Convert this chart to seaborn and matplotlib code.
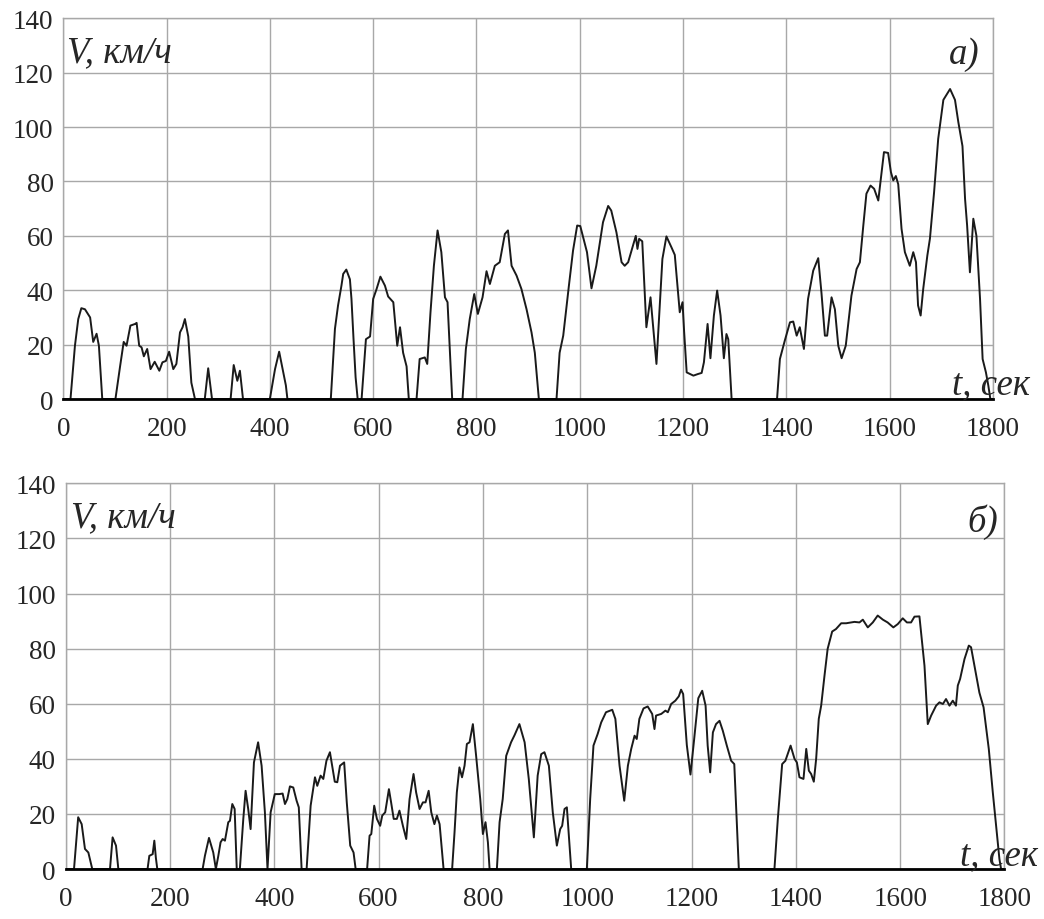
import matplotlib
matplotlib.use("Agg")
import matplotlib.pyplot as plt
import pandas as pd
import seaborn as sns

# ---- panel a) ----
t_a = [0, 14, 22.6, 29, 35, 42, 52, 58, 64.5, 69, 75.5,
       101, 110, 117, 122.5, 130, 139, 142, 147, 151.6, 156, 162.5, 169, 177, 186, 192, 198.7,
       205, 213, 219, 226, 231, 235.5, 242, 248, 255,
       274, 280.6, 288,
       324, 330, 337, 342, 348,
       400, 410, 418, 426, 431, 434,
       518, 526, 532, 538.6, 542, 548, 555, 558, 562, 566, 570,
       577.6, 586, 594, 600, 606.7, 614, 622.8, 629, 639, 646.6, 652, 658, 664.7, 669,
       684, 690, 700, 704.7, 711, 717.6, 724.7, 732, 739, 744, 753,
       773, 779.5, 787, 795.7, 802.7, 811.8, 819.5, 826, 835.6, 845, 855, 861, 868, 877.6,
       887, 897, 906.6, 913, 920.8,
       955, 961, 968, 979, 987, 995, 1001, 1006.6, 1014, 1022.7, 1032, 1045, 1055, 1061,
       1071, 1081, 1087, 1093.7, 1102, 1108.5, 1111.7, 1115, 1121, 1129, 1137, 1148.5,
       1160, 1167.8, 1177.5, 1184, 1193.6, 1199, 1202, 1207, 1220, 1229, 1236, 1240.4,
       1247.5, 1253, 1259.7, 1266, 1272.6, 1279, 1284, 1287.5, 1294,
       1382, 1387.5, 1397, 1407, 1413.3, 1420, 1426, 1434, 1442, 1452, 1461.7, 1468,
       1474.6, 1479, 1487.5, 1494, 1500.5, 1507, 1515, 1526, 1536, 1542.4, 1549, 1555,
       1563, 1570, 1578, 1584.4, 1589, 1597, 1602.5, 1607, 1612, 1616.6, 1623, 1629.5,
       1639, 1645.7, 1651, 1655, 1660, 1665, 1673, 1678, 1686, 1694, 1704, 1717, 1726.5,
       1733, 1741, 1746, 1750, 1755.4, 1762, 1768, 1775, 1780, 1786.4, 1791, 1795, 1800]
v_a = [0, 0, 19.6, 29.4, 33.4, 33, 30, 21, 24, 19.6, 0,
       0, 12, 21, 19.6, 27, 27.6, 28, 19.6, 19, 15.7, 18.4, 11, 13.7, 10.4, 13.5, 14,
       17.4, 11, 12.9, 24.5, 26.4, 29.4, 23, 6, 0,
       0, 11.3, 0,
       0, 12.5, 6.7, 10.4, 0,
       0, 11, 17.4, 9.8, 5, 0,
       0, 25.8, 34.4, 41.7, 46, 47.6, 44, 36.8, 22, 8, 0,
       0, 22, 23, 36.8, 40.5, 45, 41.7, 37.7, 35.6, 19.6, 26.4, 17, 12, 0,
       0, 14.7, 15.3, 12.9, 31.9, 49, 62, 54, 37.4, 35.6, 0,
       0, 18.4, 29.4, 38.6, 31.3, 37.4, 47, 42.3, 49, 50.3, 60.7, 62, 49, 45.4,
       40.5, 33, 24.5, 17, 0,
       0, 17, 23.3, 41.7, 54.6, 63.8, 63.6, 59.5, 54, 40.7, 49, 65, 71, 69.3,
       61.3, 50.3, 49, 50.3, 55.8, 60, 55.2, 58.9, 58, 26.4, 37.4, 12.9,
       51.5, 59.8, 55.8, 53, 31.9, 35.6, 25, 9.8, 8.6, 9.2, 9.6, 13.5,
       27.6, 15, 30.7, 39.9, 30.7, 15, 23.9, 22, 0,
       0, 14.7, 21.5, 28.2, 28.5, 23.3, 26.4, 18.4, 36.8, 47.2, 51.8, 39,
       23.3, 23.3, 37.4, 33, 19.6, 15, 19.6, 38, 47.8, 50.3, 63.8, 75.5,
       78.5, 77.3, 73, 83.4, 90.8, 90.5, 83.4, 80.4, 82, 79, 62.6, 54,
       49, 54, 50.3, 34.4, 30.7, 40.5, 52.8, 59, 76, 95.7, 110, 114, 110,
       101.8, 93, 73.6, 63.8, 46.6, 66.3, 60, 36.8, 14.7, 9.8, 5, 0, 0]

# ---- panel б) ----
t_b = [0, 16, 24, 30.7, 37, 43.5, 51,
       85, 90, 96.5, 101,
       157, 160.4, 166.8, 170, 173, 175.7,
       262.6, 267, 274.8, 283, 288, 292.7, 297, 301, 305.4, 311.8, 315, 319.5, 324, 328, 334,
       340.6, 345, 350, 354.6, 361, 369, 375.7, 382, 387,
       393, 401, 409.6, 416, 420.5, 425, 430, 436.4, 442.8, 447, 452.4,
       462, 469.7, 478, 482.4, 488.8, 494, 500, 506.7, 516, 520.8, 526, 534, 539, 545.6, 552, 556,
       578, 582.7, 586, 591.6, 596.8, 603, 607, 612.7, 619.8, 624, 629, 635, 640, 646.6, 653,
       659.4, 667, 672, 678.6, 685, 690, 696, 701, 707, 711.8, 717, 724.6,
       741, 745.6, 750, 755, 760, 764.8, 769.3, 774.4, 780.8, 787, 794.9, 800, 805, 809.6, 812.8,
       826.8, 832, 838, 844.7, 854, 860.7, 870, 880, 888, 897.7, 905, 911.8, 918, 926.5, 934,
       941.8, 948.2, 952, 956.5, 961, 969.3,
       999.3, 1005.7, 1012, 1020, 1026.8, 1036, 1048, 1054, 1062, 1071, 1078, 1084.4, 1090.8,
       1095, 1100, 1108, 1116, 1124.6, 1129, 1132, 1142, 1150, 1154.6, 1161, 1169, 1175.7,
       1180, 1184, 1191, 1198, 1205, 1213, 1220.5, 1227, 1231, 1235.8, 1241, 1247, 1253.7,
       1260, 1267.7, 1276, 1282, 1290.7,
       1359, 1365.5, 1373.8, 1380, 1390, 1397.5, 1402, 1407, 1414.7, 1420, 1425, 1429.4,
       1434.5, 1439, 1444, 1448.6, 1455, 1461, 1469.7, 1477, 1487, 1496.5, 1506, 1512.5,
       1522, 1528.5, 1538, 1547.6, 1557, 1567, 1576, 1587, 1595.5, 1605, 1613, 1621, 1627.5,
       1637, 1642, 1646.7, 1653, 1659.5, 1669, 1675.4, 1682, 1688, 1694.6, 1701, 1707,
       1710.6, 1715, 1723.4, 1731.7, 1736, 1742.5, 1752, 1760, 1770, 1777.7, 1784, 1790.4,
       1793.6, 1800]
v_b = [0, 0, 18.8, 16.3, 7.3, 6, 0,
       0, 11.5, 8.5, 0,
       0, 4.8, 5.4, 10.3, 4, 0,
       0, 4.8, 11.3, 6, 0, 4.8, 9.7, 10.9, 10.3, 17, 17.5, 23.6, 21.8, 0, 0,
       18.2, 28.4, 21.8, 14.5, 38.7, 46, 37.5, 20.6, 0,
       20.6, 27.2, 27.2, 27.4, 23.6, 25.4, 30, 29.6, 24.8, 22.4, 0,
       0, 23, 33.3, 30.2, 33.9, 32.7, 39.3, 42.4, 31.7, 31.5, 37.5, 38.7, 24.2, 8.5, 6, 0,
       0, 12.1, 12.7, 23, 18.2, 15.7, 19.4, 20.6, 29, 24.2, 18.2, 18.2, 21.2, 15.7, 10.9,
       25.4, 34.5, 27.8, 21.8, 24.2, 24.2, 28.4, 20.6, 16.3, 19.4, 16.3, 0,
       0, 13.3, 27.8, 36.9, 33.3, 37.5, 45.4, 46, 52.6, 41.1, 25.4, 12.7, 17, 9.7, 0,
       0, 17, 25.4, 41.1, 46, 48.6, 52.6, 46, 32.7, 11.5, 33.9, 41.7, 42.4, 37.5, 20.6,
       8.5, 14.5, 15.7, 21.8, 22.4, 0,
       0, 25.4, 44.8, 49, 53.2, 56.9, 57.8, 54.5, 37.5, 24.8, 37.5, 43.6, 48.4,
       47.2, 54.5, 58.3, 59, 56.3, 50.8, 55.7, 56.3, 57.5, 56.9, 59.9, 61.1, 62.7,
       65.1, 63.5, 45, 34.3, 47, 62, 64.7, 59.3, 44.8, 35.1, 49.6, 52.6, 53.8,
       50.2, 44.8, 39.3, 38.1, 0,
       0, 18.2, 38.1, 39.3, 44.8, 40, 38.7, 33.3, 32.7, 43.6, 35.7, 34.5,
       31.7, 40, 54.5, 59.3, 70.2, 79.9, 86.2, 87.1, 89.2, 89.2, 89.5, 89.7,
       89.5, 90.5, 87.7, 89.5, 92, 90.5, 89.5, 87.7, 88.9, 91, 89.5, 89.5, 91.6,
       91.7, 82.3, 73.8, 52.6, 55.7, 59.3, 60.5, 59.9, 61.7, 59.3, 61.1, 59.3,
       66.6, 69, 76.2, 81.1, 80.5, 73.8, 64, 58.7, 43.6, 27.8, 15.7, 3.6,
       0, 0]

x_ticks = [0, 200, 400, 600, 800, 1000, 1200, 1400, 1600, 1800]
y_ticks = [0, 20, 40, 60, 80, 100, 120, 140]
y_label = "V, км/ч"
x_label = "t, сек"
panel_labels = ["а)", "б)"]

sns.set_style("whitegrid", {"grid.color": "#a8a8a8", "axes.edgecolor": "#a8a8a8"})
plt.rcParams["font.family"] = ["Liberation Serif", "DejaVu Serif"]

fig = plt.figure(figsize=(10.44, 9.2), dpi=100)
ax1 = fig.add_axes([0.0606, 0.5652, 0.8905, 0.4138])
ax2 = fig.add_axes([0.0629, 0.0543, 0.8992, 0.4193])

panels = [
    (ax1, t_a, v_a, panel_labels[0], (0.004, 0.888), (0.986, 0.882), (0.9556, 0.016)),
    (ax2, t_b, v_b, panel_labels[1], (0.006, 0.890), (0.993, 0.877), (0.953, 0.012)),
]

for ax, t, v, plab, ypos, ppos, xpos in panels:
    df = pd.DataFrame({"t": t, "V": v})
    sns.lineplot(data=df, x="t", y="V", ax=ax, estimator=None, sort=False,
                 color="#1a1a1a", linewidth=1.4, zorder=3)
    ax.set_xlim(0, 1800)
    ax.set_ylim(0, 140)
    ax.set_xticks(x_ticks)
    ax.set_yticks(y_ticks)
    ax.set_xlabel("")
    ax.set_ylabel("")
    ax.grid(True, color="#a8a8a8", linewidth=1.0)
    ax.tick_params(axis="x", labelsize=19.5, length=5, color="#a8a8a8", pad=7, width=1.0)
    ax.tick_params(axis="y", labelsize=19.5, length=0, pad=7)
    for s in ["top", "left", "right"]:
        ax.spines[s].set_color("#a8a8a8")
        ax.spines[s].set_linewidth(1.0)
    ax.spines["bottom"].set_color("black")
    ax.spines["bottom"].set_linewidth(2.0)
    ax.spines["bottom"].set_zorder(4)
    ax.text(ypos[0], ypos[1], y_label, transform=ax.transAxes, fontsize=26.5,
            style="italic", ha="left", va="baseline")
    ax.text(ppos[0], ppos[1], plab, transform=ax.transAxes, fontsize=26.5,
            style="italic", ha="right", va="baseline")
    ax.text(xpos[0], xpos[1], x_label, transform=ax.transAxes, fontsize=26.5,
            style="italic", ha="left", va="baseline", clip_on=False, zorder=5)

fig.savefig("out.png", dpi=100, facecolor="white")
